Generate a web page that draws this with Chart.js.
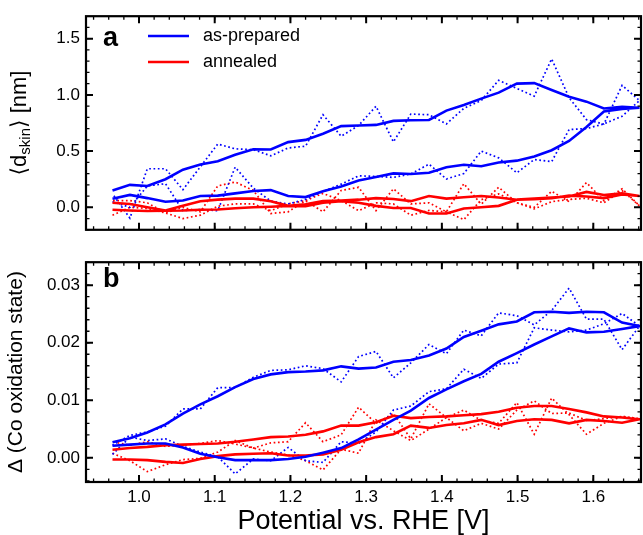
<!DOCTYPE html>
<html>
<head>
<meta charset="utf-8">
<script src="https://cdn.jsdelivr.net/npm/chart.js@4.4.1/dist/chart.umd.min.js"></script>
<style>
  body { margin: 0; background: #fff; }
  #wrap { position: relative; width: 643px; height: 535px; }
  canvas { position: absolute; left: 0; }
  #ca { top: 0; }
  #cb { top: 246px; }
</style>
</head>
<body>
<div id="wrap">
  <canvas id="ca" width="643" height="246"></canvas>
  <canvas id="cb" width="643" height="289"></canvas>
</div>
<script>
// potential steps of one sweep (V vs. RHE)
const potentials = [0.965, 0.988, 1.011, 1.035, 1.058, 1.081, 1.104, 1.127, 1.151, 1.174, 1.197,
  1.220, 1.243, 1.267, 1.290, 1.313, 1.336, 1.359, 1.383, 1.406, 1.429, 1.452, 1.475, 1.499,
  1.522, 1.545, 1.568, 1.591, 1.614, 1.638, 1.661];
const xTicks = [1.0, 1.1, 1.2, 1.3, 1.4, 1.5, 1.6];
const skinTicks = [0.0, 0.5, 1.0, 1.5];
const oxTicks = [0.00, 0.01, 0.02, 0.03];
const seriesNames = ['as-prepared', 'annealed'];

// panel a: <d_skin> [nm]   (Fwd = one sweep direction, Bwd = return sweep, Raw = dotted)
const skinPrepFwd = [0.077, 0.11, 0.082, 0.049, 0.06, 0.10, 0.104, 0.124, 0.145, 0.153, 0.10, 0.091, 0.143, 0.186, 0.239, 0.269, 0.302, 0.297, 0.307, 0.357, 0.379, 0.365, 0.398, 0.415, 0.453, 0.508, 0.59, 0.714, 0.852, 0.874, 0.885];
const skinPrepBwd = [0.15, 0.20, 0.19, 0.25, 0.335, 0.38, 0.41, 0.467, 0.516, 0.514, 0.58, 0.60, 0.654, 0.722, 0.728, 0.733, 0.769, 0.775, 0.777, 0.86, 0.91, 0.967, 1.02, 1.10, 1.105, 1.044, 0.983, 0.94, 0.879, 0.893, 0.885];
const skinPrepRawFwd = [0.05, 0.0, 0.19, 0.21, -0.03, -0.02, -0.03, 0.357, 0.17, 0.055, 0.03, 0.07, 0.14, 0.206, 0.28, 0.275, 0.266, 0.297, 0.384, 0.252, 0.30, 0.50, 0.44, 0.307, 0.425, 0.406, 0.692, 0.70, 0.742, 0.81, 0.95];
const skinPrepRawBwd = [0.12, -0.096, 0.343, 0.343, 0.157, 0.36, 0.563, 0.52, 0.513, 0.458, 0.528, 0.544, 0.824, 0.632, 0.728, 0.899, 0.582, 0.829, 0.824, 0.742, 0.88, 0.95, 1.13, 1.058, 0.989, 1.32, 0.975, 0.78, 0.74, 1.085, 0.95];
const skinAnnFwd = [-0.022, -0.028, -0.033, -0.03, -0.028, -0.022, -0.02, -0.008, 0.0, 0.005, 0.013, 0.027, 0.055, 0.06, 0.068, 0.082, 0.074, 0.055, 0.10, 0.077, 0.09, 0.10, 0.087, 0.068, 0.077, 0.087, 0.096, 0.137, 0.11, 0.124, 0.10];
const skinAnnBwd = [0.041, 0.03, 0.0, -0.028, 0.013, 0.054, 0.068, 0.077, 0.077, 0.054, 0.013, 0.01, 0.04, 0.055, 0.041, 0.013, -0.006, -0.006, -0.055, -0.055, -0.01, 0.0, 0.013, 0.068, 0.072, 0.08, 0.104, 0.096, 0.082, 0.115, 0.10];
const skinAnnRawFwd = [-0.07, 0.0, -0.01, -0.05, -0.10, -0.07, 0.01, 0.03, 0.03, -0.03, 0.03, 0.06, -0.04, 0.15, 0.178, -0.03, 0.165, 0.03, 0.04, -0.04, 0.21, 0.027, 0.178, 0.04, 0.0, 0.143, 0.05, 0.22, 0.06, 0.165, 0.013];
const skinAnnRawBwd = [0.06, 0.06, 0.04, -0.05, 0.0, -0.04, 0.19, 0.225, 0.15, -0.055, -0.04, 0.06, 0.124, 0.06, -0.03, 0.04, 0.03, -0.07, -0.028, -0.04, -0.11, 0.068, 0.12, 0.041, -0.014, 0.05, 0.07, 0.08, 0.04, 0.15, 0.013];

// panel b: change of Co oxidation state
const oxPrepFwd = [0.0021, 0.0023, 0.0025, 0.0025, 0.0018, 0.0007, 0.0001, -0.0004, -0.0004, -0.0004, -0.0002, 0.0002, 0.0009, 0.0017, 0.0032, 0.0049, 0.0066, 0.0082, 0.0104, 0.0119, 0.0133, 0.0146, 0.0167, 0.0182, 0.0197, 0.0211, 0.0225, 0.0218, 0.0219, 0.0224, 0.0229];
const oxPrepBwd = [0.0027, 0.0034, 0.0044, 0.0058, 0.0077, 0.0093, 0.0107, 0.0123, 0.0137, 0.0145, 0.0149, 0.0150, 0.0152, 0.0159, 0.0155, 0.0157, 0.0167, 0.0170, 0.0178, 0.0190, 0.0210, 0.0221, 0.0232, 0.0237, 0.0253, 0.0254, 0.0252, 0.0254, 0.0253, 0.0235, 0.0229];
const oxPrepRawFwd = [0.0006, 0.0036, 0.0030, 0.0033, 0.0020, 0.0010, 0.0002, -0.0028, -0.0002, -0.0005, 0.0018, -0.0005, -0.0008, 0.0028, 0.0025, 0.0045, 0.0083, 0.0090, 0.0115, 0.0120, 0.0154, 0.0138, 0.0163, 0.0165, 0.0226, 0.0222, 0.0219, 0.0222, 0.0233, 0.0251, 0.0229];
const oxPrepRawBwd = [0.0022, 0.0039, 0.0045, 0.0055, 0.0085, 0.0085, 0.0122, 0.0122, 0.0140, 0.0152, 0.0153, 0.0160, 0.0155, 0.0132, 0.0176, 0.0185, 0.0139, 0.0165, 0.0197, 0.0181, 0.0222, 0.0212, 0.0252, 0.0247, 0.0231, 0.0256, 0.0295, 0.0241, 0.0241, 0.0188, 0.0229];
const oxAnnFwd = [-0.0003, -0.0003, -0.0004, -0.0007, -0.0009, -0.0002, 0.0003, 0.0006, 0.0007, 0.0008, 0.0004, 0.0004, 0.0006, 0.0014, 0.0027, 0.0036, 0.0041, 0.0056, 0.0052, 0.0057, 0.0060, 0.0066, 0.0057, 0.0064, 0.0067, 0.0066, 0.0060, 0.0066, 0.0064, 0.0061, 0.0067];
const oxAnnBwd = [0.0014, 0.0017, 0.0019, 0.0022, 0.0023, 0.0024, 0.0025, 0.0028, 0.0032, 0.0036, 0.0037, 0.0040, 0.0046, 0.0056, 0.0056, 0.0062, 0.0073, 0.0069, 0.0071, 0.0072, 0.0074, 0.0076, 0.0080, 0.0087, 0.0090, 0.0090, 0.0085, 0.0079, 0.0072, 0.0070, 0.0067];
const oxAnnRawFwd = [0.0008, -0.0005, -0.0024, -0.0012, -0.0003, -0.0001, 0.0010, 0.0030, 0.0017, 0.0010, 0.0005, -0.0005, -0.0021, 0.0015, 0.0008, 0.0066, 0.0047, 0.0030, 0.0050, 0.0070, 0.0047, 0.0060, 0.0050, 0.0083, 0.0099, 0.0077, 0.0078, 0.0065, 0.0068, 0.0072, 0.0068];
const oxAnnRawBwd = [0.0028, 0.0022, 0.0028, 0.0020, 0.0022, 0.0025, 0.0030, 0.0024, 0.0017, 0.0026, 0.0028, 0.0061, 0.0028, 0.0040, 0.0088, 0.0060, 0.0077, 0.0033, 0.0094, 0.0070, 0.0083, 0.0065, 0.0060, 0.0096, 0.0041, 0.0104, 0.0075, 0.0041, 0.0060, 0.0072, 0.0068];

const BLUE = '#0000ff';
const RED = '#ff0000';
const FONT = "'Liberation Sans', Arial, 'DejaVu Sans', sans-serif";

// forward sweep up to the turning point, then back down
function loop(fwd, bwd) {
  const pts = potentials.map((x, i) => ({x: x, y: fwd[i]}));
  for (let i = potentials.length - 2; i >= 0; i--) {
    pts.push({x: potentials[i], y: bwd[i]});
  }
  return pts;
}

function ds(data, color, dotted) {
  return {
    data: data,
    borderColor: color,
    borderWidth: dotted ? 1.7 : 2.6,
    borderDash: dotted ? [1.7, 2.6] : [],
    pointRadius: 0,
    tension: 0,
    fill: false
  };
}

// box around the plot with inward major and minor ticks
const framePlugin = {
  id: 'frame',
  afterDatasetsDraw(chart, args, opts) {
    const {ctx, chartArea: a} = chart;
    const xs = chart.scales.x, ys = chart.scales.y;
    ctx.save();
    ctx.strokeStyle = '#000';
    function xTick(v, len, w) {
      const px = xs.getPixelForValue(v);
      ctx.lineWidth = w;
      ctx.beginPath();
      ctx.moveTo(px, a.bottom); ctx.lineTo(px, a.bottom - len);
      ctx.moveTo(px, a.top); ctx.lineTo(px, a.top + len);
      ctx.stroke();
    }
    function yTick(v, len, w) {
      const py = ys.getPixelForValue(v);
      ctx.lineWidth = w;
      ctx.beginPath();
      ctx.moveTo(a.left, py); ctx.lineTo(a.left + len, py);
      ctx.moveTo(a.right, py); ctx.lineTo(a.right - len, py);
      ctx.stroke();
    }
    for (let k = Math.ceil(xs.min / opts.xMinor); k * opts.xMinor <= xs.max; k++) xTick(k * opts.xMinor, 3.5, 1.3);
    for (let k = Math.ceil(ys.min / opts.yMinor); k * opts.yMinor <= ys.max; k++) yTick(k * opts.yMinor, 3.5, 1.3);
    xTicks.forEach(v => xTick(v, 7, 2));
    opts.yMajor.forEach(v => yTick(v, 7, 2));
    ctx.lineWidth = 2.2;
    ctx.strokeRect(a.left, a.top, a.right - a.left, a.bottom - a.top);
    ctx.restore();
  }
};

// panel letter, legend and subscripted y title for panel a
const decoPlugin = {
  id: 'deco',
  afterDraw(chart, args, opts) {
    const ctx = chart.ctx;
    ctx.save();
    ctx.fillStyle = '#000';
    ctx.textBaseline = 'alphabetic';
    ctx.font = 'bold 27px ' + FONT;
    ctx.fillText(opts.letter, 103, opts.letterY);
    if (opts.legend) {
      [BLUE, RED].forEach((c, i) => {
        const y = 36 + i * 26;
        ctx.strokeStyle = c;
        ctx.lineWidth = 2.6;
        ctx.beginPath();
        ctx.moveTo(148, y); ctx.lineTo(189, y);
        ctx.stroke();
        ctx.font = '18px ' + FONT;
        ctx.textBaseline = 'middle';
        ctx.fillText(seriesNames[i], 203, y);
      });
    }
    if (opts.skinTitle) {
      const a = chart.chartArea;
      ctx.translate(20, (a.top + a.bottom) / 2);
      ctx.rotate(-Math.PI / 2);
      ctx.textBaseline = 'middle';
      const big = '22px ' + FONT, small = '15px ' + FONT;
      const parts = [['\u27E8d', big, 0], ['skin', small, 6], ['\u27E9 [nm]', big, 0]];
      let w = 0;
      parts.forEach(p => { ctx.font = p[1]; w += ctx.measureText(p[0]).width; });
      let x = -w / 2;
      parts.forEach(p => {
        ctx.font = p[1];
        ctx.fillText(p[0], x, p[2]);
        x += ctx.measureText(p[0]).width;
      });
    }
    ctx.restore();
  }
};

const xScale = (show) => ({
  type: 'linear',
  min: 0.93,
  max: 1.663,
  display: show,
  grid: {display: false, drawTicks: false},
  border: {display: false},
  afterBuildTicks: s => { s.ticks = xTicks.map(v => ({value: v})); },
  ticks: {
    font: {family: FONT, size: 17},
    color: '#000',
    padding: 5,
    maxRotation: 0,
    callback: v => v.toFixed(1)
  },
  title: {
    display: show,
    text: 'Potential vs. RHE [V]',
    font: {family: FONT, size: 27, lineHeight: 1.0},
    color: '#000',
    padding: {top: 0, bottom: 0}
  }
});

const chartA = new Chart(document.getElementById('ca'), {
  type: 'line',
  data: {
    datasets: [
      ds(loop(skinPrepFwd, skinPrepBwd), BLUE, false),
      ds(loop(skinAnnFwd, skinAnnBwd), RED, false),
      ds(loop(skinPrepRawFwd, skinPrepRawBwd), BLUE, true),
      ds(loop(skinAnnRawFwd, skinAnnRawBwd), RED, true)
    ]
  },
  options: {
    responsive: false,
    animation: false,
    layout: {padding: {top: 12, right: 2, bottom: 4, left: 0}},
    plugins: {
      legend: {display: false},
      tooltip: {enabled: false},
      frame: {xMinor: 0.02, yMinor: 0.1, yMajor: skinTicks},
      deco: {letter: 'a', letterY: 46, legend: true, skinTitle: true}
    },
    scales: {
      x: xScale(false),
      y: {
        min: -0.2,
        max: 1.7,
        grid: {display: false, drawTicks: false},
        border: {display: false},
        afterBuildTicks: s => { s.ticks = skinTicks.map(v => ({value: v})); },
        afterFit: s => { s.width = 86; },
        ticks: {font: {family: FONT, size: 17}, color: '#000', padding: 6, callback: v => v.toFixed(1)}
      }
    }
  },
  plugins: [framePlugin, decoPlugin]
});

const chartB = new Chart(document.getElementById('cb'), {
  type: 'line',
  data: {
    datasets: [
      ds(loop(oxPrepFwd, oxPrepBwd), BLUE, false),
      ds(loop(oxAnnFwd, oxAnnBwd), RED, false),
      ds(loop(oxPrepRawFwd, oxPrepRawBwd), BLUE, true),
      ds(loop(oxAnnRawFwd, oxAnnRawBwd), RED, true)
    ]
  },
  options: {
    responsive: false,
    animation: false,
    layout: {padding: {top: 5, right: 2, bottom: 0, left: 0}},
    plugins: {
      legend: {display: false},
      tooltip: {enabled: false},
      frame: {xMinor: 0.02, yMinor: 0.002, yMajor: oxTicks},
      deco: {letter: 'b', letterY: 41, legend: false, skinTitle: false}
    },
    scales: {
      x: Object.assign(xScale(true), {afterFit: s => { s.height = 53; }}),
      y: {
        min: -0.0042,
        max: 0.034,
        grid: {display: false, drawTicks: false},
        border: {display: false},
        afterBuildTicks: s => { s.ticks = oxTicks.map(v => ({value: v})); },
        afterFit: s => { s.width = 86; },
        ticks: {font: {family: FONT, size: 17}, color: '#000', padding: 6, callback: v => v.toFixed(2)},
        title: {
          display: true,
          text: '\u0394 (Co oxidation state)',
          font: {family: FONT, size: 21},
          color: '#000',
          padding: {top: 4, bottom: 0}
        }
      }
    }
  },
  plugins: [framePlugin, decoPlugin]
});
</script>
</body>
</html>
